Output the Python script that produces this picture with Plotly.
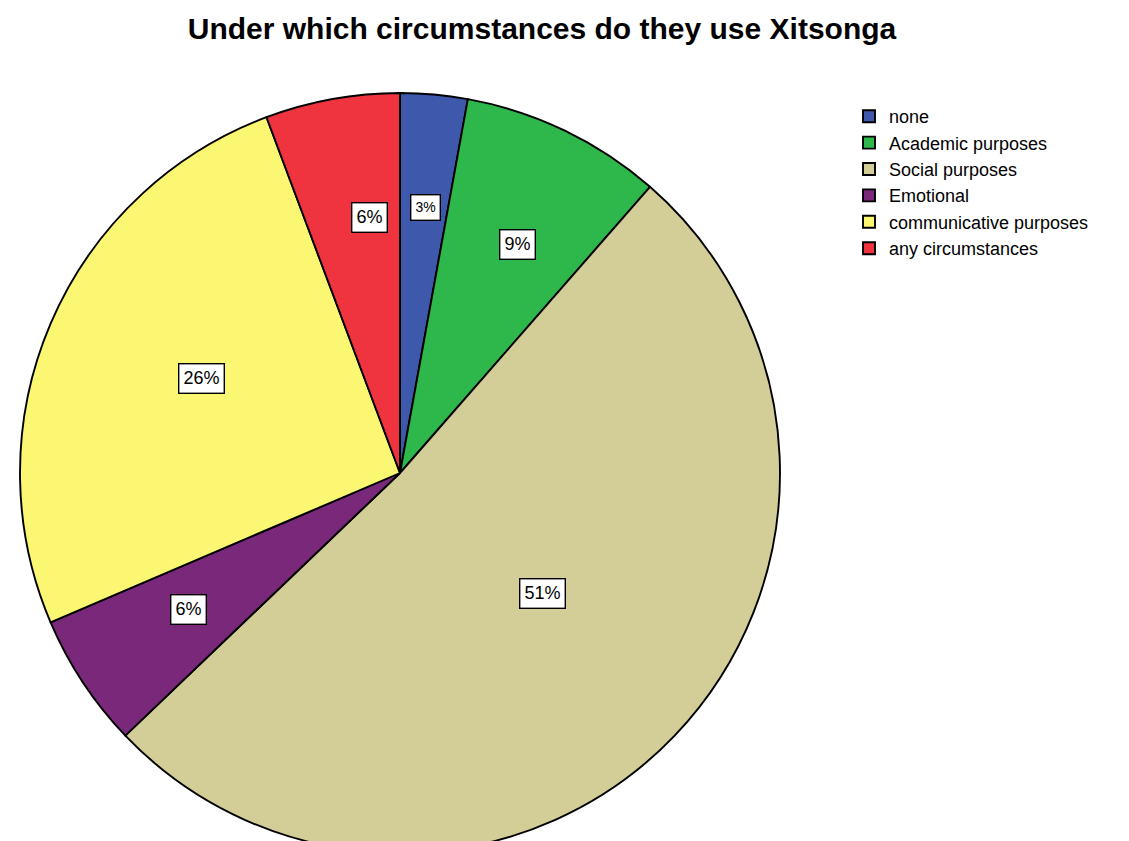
import math
import plotly.graph_objects as go

# Responses to "Under which circumstances do they use Xitsonga" (counts)
categories = ["none", "Academic purposes", "Social purposes", "Emotional",
              "communicative purposes", "any circumstances"]
counts = [1, 3, 18, 2, 9, 2]
colors = ["#3E58AC", "#2EB84B", "#D3CE97", "#7A287A", "#FBF773", "#EF3440"]

W, H = 1129, 860
CX, CY, R = 400, 473, 380  # pie centre and radius in pixels

fig = go.Figure(go.Pie(
    labels=categories,
    values=counts,
    sort=False,
    direction="clockwise",
    rotation=0,
    textinfo="none",
    hoverinfo="label+percent",
    marker=dict(colors=colors, line=dict(color="black", width=1.9)),
    domain=dict(x=[(CX - R) / W, (CX + R) / W],
                y=[1 - (CY + R) / H, 1 - (CY - R) / H]),
))

# Boxed percentage labels placed at each slice's mid angle
total = sum(counts)
cum = 0
for v in counts:
    frac = v / total
    mid = (cum + frac / 2) * 2 * math.pi
    cum += frac
    rf = 0.75 - 0.45 * frac
    px = CX + rf * R * math.sin(mid)
    py = CY - rf * R * math.cos(mid)
    fig.add_annotation(
        x=px / W, y=1 - py / H, xref="paper", yref="paper",
        text=f"{round(100 * frac)}%", showarrow=False,
        font=dict(family="Liberation Sans, Arial", size=18 if frac > 0.04 else 14,
                  color="black"),
        bgcolor="white", bordercolor="black", borderwidth=1.4, borderpad=4,
    )

fig.update_layout(
    width=W, height=H,
    margin=dict(l=0, r=0, t=0, b=0),
    paper_bgcolor="white", plot_bgcolor="white",
    title=dict(text="<b>Under which circumstances do they use Xitsonga</b>",
               x=542 / W, xanchor="center", y=1 - 28 / H, yanchor="middle",
               font=dict(family="Liberation Sans, Arial", size=30, color="black")),
    legend=dict(x=849 / W, xanchor="left", y=1 - 98 / H, yanchor="top",
                font=dict(family="Liberation Sans, Arial", size=18, color="black"),
                tracegroupgap=0, itemwidth=30, bgcolor="rgba(0,0,0,0)"),
    showlegend=True,
)

fig.write_html(
    "out.html",
    post_script="document.body.style.margin='0';"
                "document.body.style.overflow='hidden';"
                "document.documentElement.style.overflow='hidden';",
)
